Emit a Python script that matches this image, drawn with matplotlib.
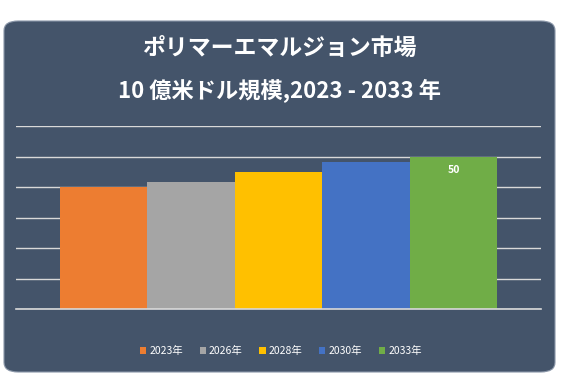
import matplotlib.pyplot as plt
from matplotlib.patches import FancyBboxPatch, Patch

plt.rcParams['font.family'] = ['Noto Sans CJK JP', 'DejaVu Sans']

# data
years = ['2023年', '2026年', '2028年', '2030年', '2033年']
values = [40.0, 41.8, 44.8, 48.1, 50.0]
colors = ['#ED7D31', '#A5A5A5', '#FFC000', '#4472C4', '#70AD47']
bg = '#44546A'

fig = plt.figure(figsize=(5.65, 3.81), dpi=100)
fig.patch.set_facecolor('white')

# rounded card behind everything
card = FancyBboxPatch((4 / 565, 9 / 381), 551 / 565, 351 / 381,
                      boxstyle='round,pad=0,rounding_size=0.025',
                      transform=fig.transFigure, facecolor=bg,
                      edgecolor='#8A96A8', linewidth=0.8, zorder=-5)
fig.patches.append(card)

ax = fig.add_axes([16 / 565, 72 / 381, 525 / 565, 183 / 381])
ax.set_zorder(2)
ax.set_facecolor('none')

x = list(range(len(years)))
bars = ax.bar(x, values, width=1.0, color=colors, zorder=3)
ax.set_xlim(-1.0, 5.0)
ax.set_ylim(0, 60)
ax.set_yticks([0, 10, 20, 30, 40, 50, 60])
ax.yaxis.grid(True, color='#D9D9D9', linewidth=1.0, zorder=1)
ax.set_axisbelow(True)
ax.axhline(0, color='#D9D9D9', linewidth=1.2, zorder=4, clip_on=False)
ax.tick_params(left=False, bottom=False, labelleft=False, labelbottom=False)
for s in ax.spines.values():
    s.set_visible(False)

# value label only on the last bar
ax.text(x[-1], values[-1] - 4.5, f'{values[-1]:.0f}', ha='center', va='center',
        color='white', fontsize=7.5, fontweight='bold', zorder=4)

fig.text(0.494, 333 / 381, 'ポリマーエマルジョン市場', ha='center', va='center',
         color='white', fontsize=16.5, fontweight='bold')
fig.text(0.494, 290 / 381, '10 億米ドル規模,2023 - 2033 年', ha='center', va='center',
         color='white', fontsize=16, fontweight='bold')

handles = [Patch(facecolor=c, edgecolor='none') for c in colors]
leg = fig.legend(handles, years, loc='center', bbox_to_anchor=(0.497, 30 / 381),
                 ncol=5, frameon=False, fontsize=7.5, labelcolor='white',
                 handlelength=0.6, handleheight=0.6, handletextpad=0.3,
                 columnspacing=1.6)

fig.savefig('out.png', dpi=100, facecolor='white')
